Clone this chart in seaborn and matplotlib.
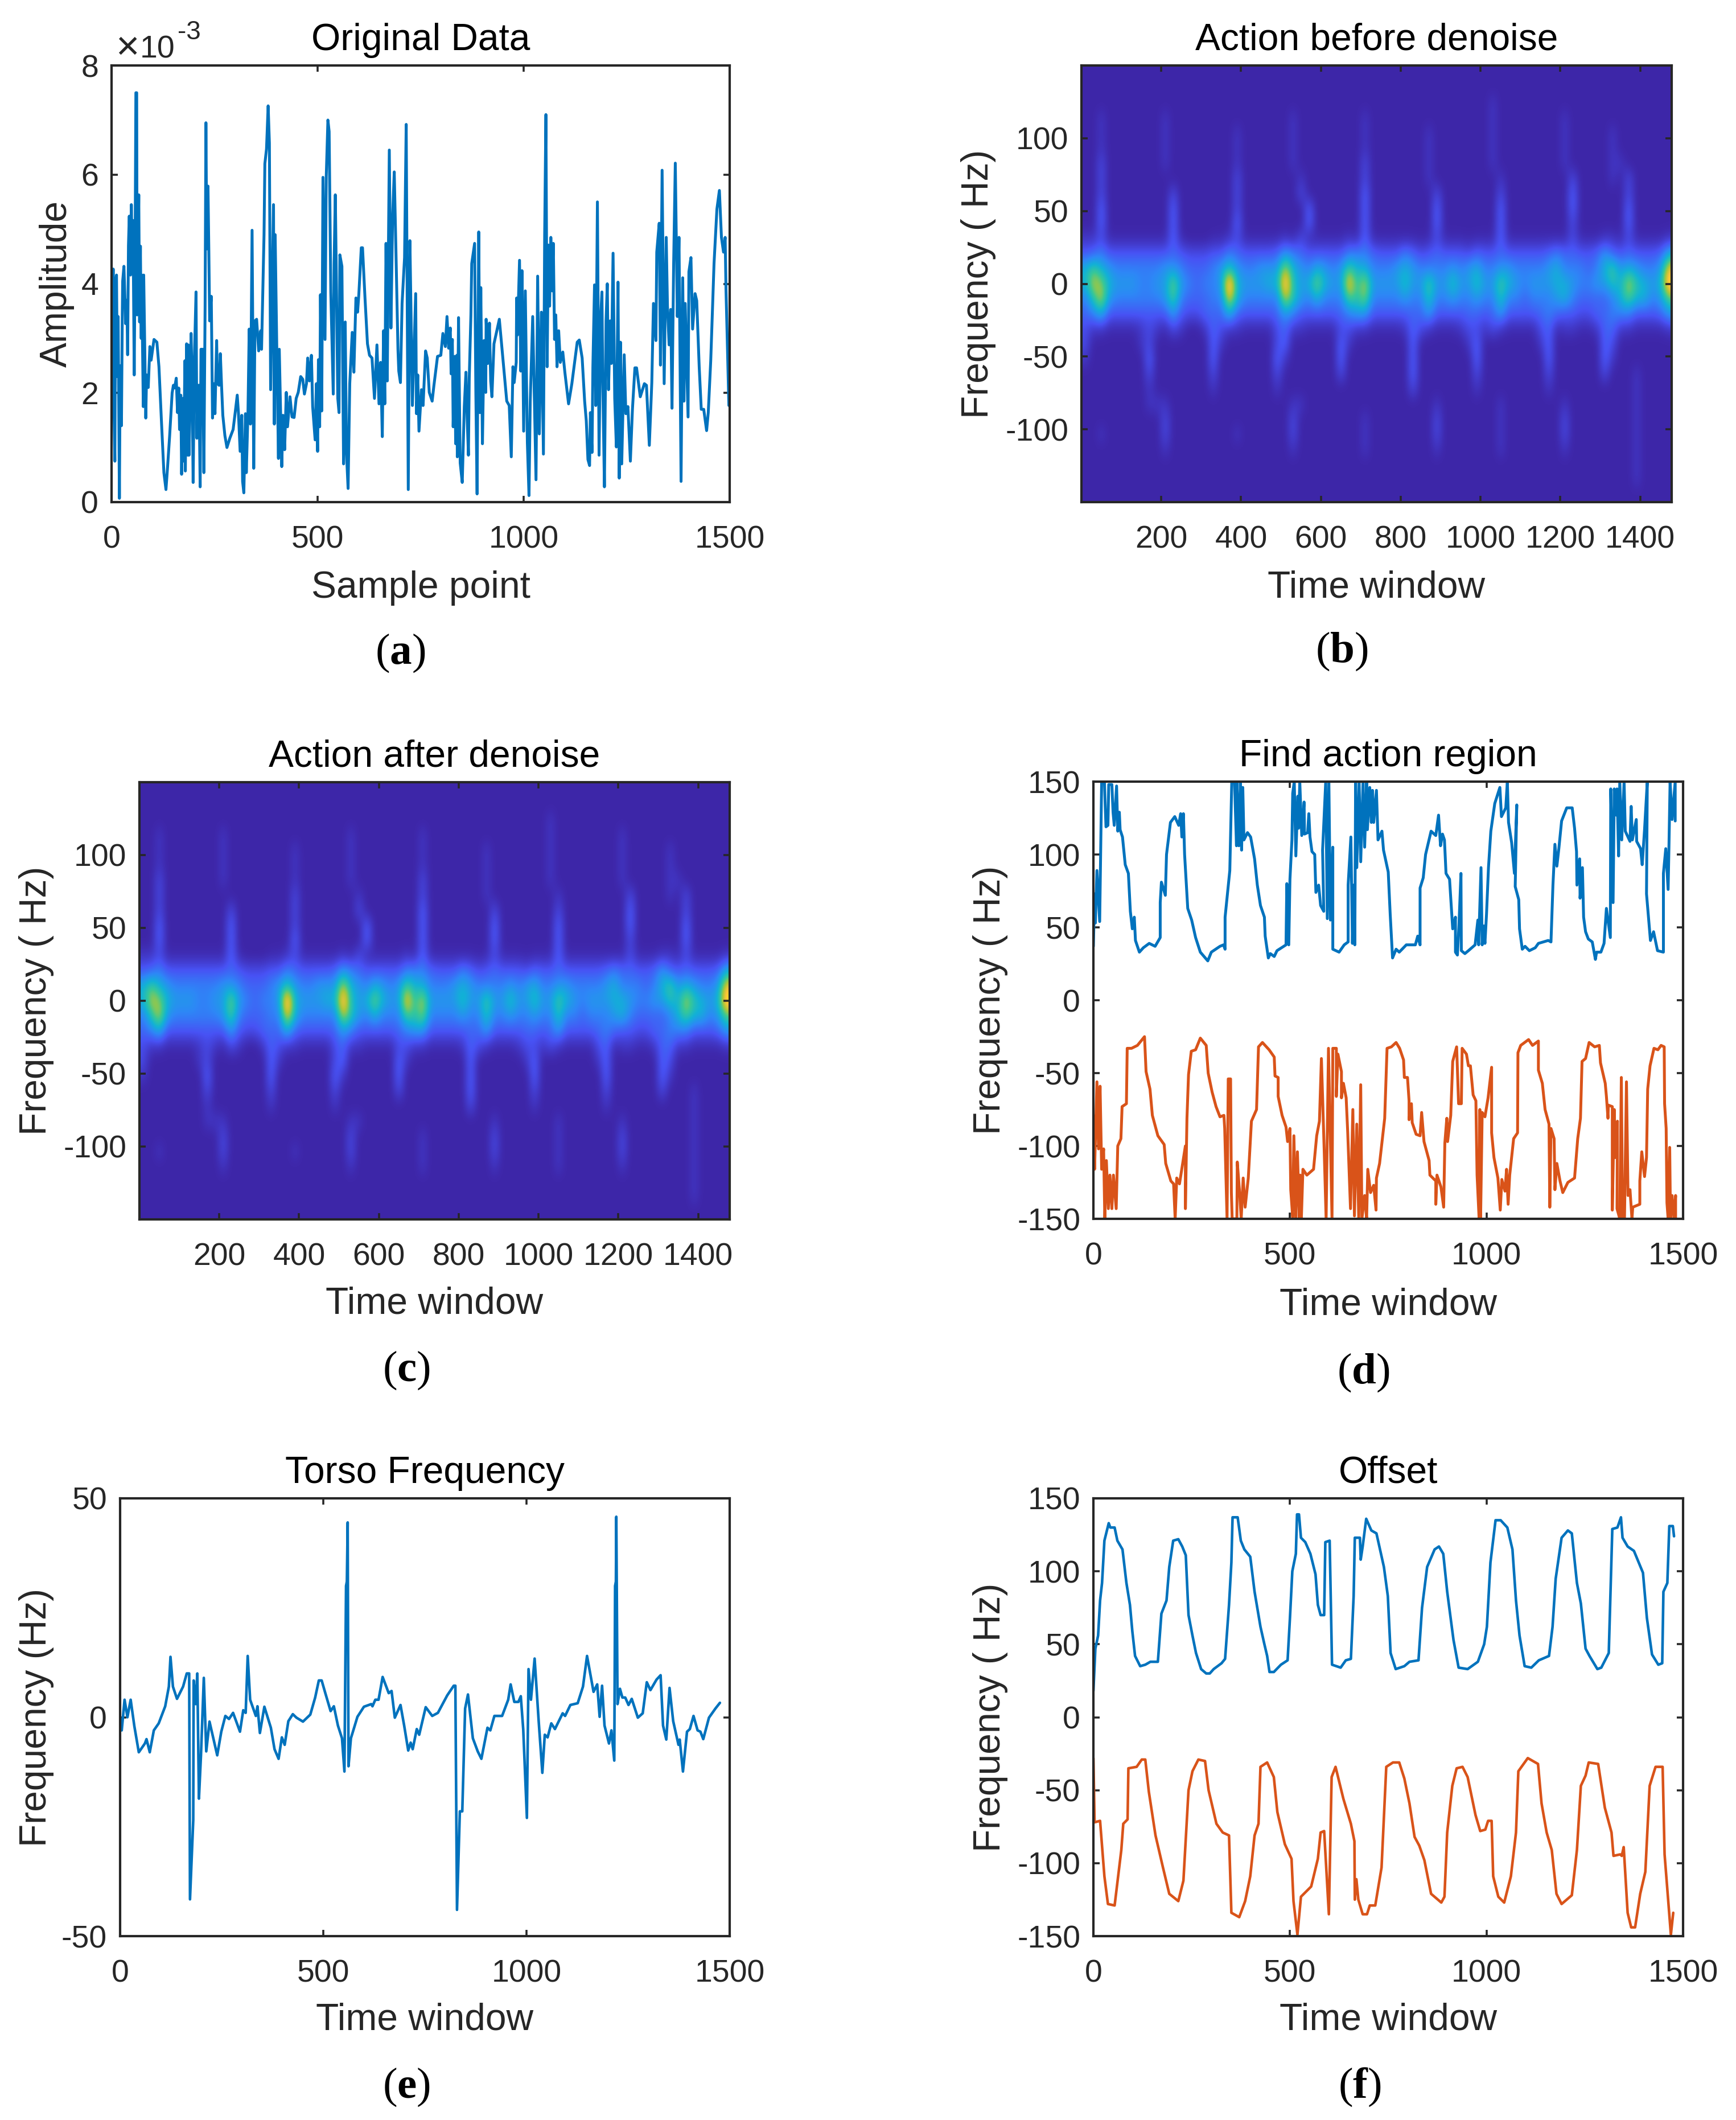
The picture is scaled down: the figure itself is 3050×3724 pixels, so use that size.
import numpy as np
import matplotlib
matplotlib.use("Agg")
import matplotlib.pyplot as plt
from matplotlib.colors import LinearSegmentedColormap, PowerNorm
import seaborn as sns

sns.set_theme(style="white")
plt.rcParams['font.family'] = ['Liberation Sans', 'DejaVu Sans']
plt.rcParams['mathtext.fontset'] = 'custom'
plt.rcParams['mathtext.bf'] = 'Liberation Serif:bold'
plt.rcParams['mathtext.rm'] = 'Liberation Serif'
plt.rcParams['mathtext.default'] = 'regular'

W, H = 3050, 3724
DPI = 300
BLUE = '#0072BD'
ORANGE = '#D95319'
INK = '#262626'
PARULA = [(0.2422, 0.1504, 0.6603), (0.2810, 0.3228, 0.9579), (0.1786, 0.5289, 0.9682),
          (0.0689, 0.6948, 0.8394), (0.2161, 0.7843, 0.5923), (0.6720, 0.7793, 0.2227),
          (0.9970, 0.7659, 0.2199), (0.9769, 0.9839, 0.0805)]

# ---- panel (a): sample point / amplitude (x 1e-3)
a_x = [0,4,5,8,10,12,14,16,19,21,24,26,27,30,33,34,37,39,41,43,46,48,51,52,55,57,59,61,62,66,68,70,72,73,77,78,
       83,85,89,93,96,103,110,115,121,127,132,136,141,147,150,153,157,160,163,165,168,170,173,175,178,179,182,185,186,188,193,195,198,201,205,207,209,212,215,217,221,224,227,229,231,234,236,238,242,245,248,251,255,257,261,264,267,270,275,280,287,295,300,305,308,312,316,318,321,325,327,331,334,337,341,345,348,352,357,362,364,367,370,372,376,380,383,386,393,395,397,401,405,407,413,416,420,424,427,433,438,443,448,453,459,464,468,473,476,480,485,488,494,497,500,502,505,507,510,513,518,521,525,528,532,538,540,543,549,552,554,559,563,567,570,574,578,584,588,593,597,600,606,609,615,621,626,632,638,644,649,653,657,660,663,666,669,674,678,682,686,690,695,697,701,705,711,715,720,724,727,730,738,740,743,746,752,756,762,766,771,778,782,791,799,804,810,814,818,822,824,827,829,833,835,838,839,842,846,851,856,860,863,866,868,872,874,878,881,884,887,891,894,896,900,904,908,909,913,917,920,923,928,935,941,947,954,959,965,970,974,977,982,983,985,990,993,996,1000,1004,1009,1013,1016,1022,1030,1034,1038,1043,1048,1051,1054,1057,1060,1063,1066,1069,1072,1075,1078,1081,1085,1089,1095,1100,1109,1117,1130,1135,1142,1148,1152,1156,1160,1162,1166,1168,1172,1175,1179,1183,1187,1190,1192,1196,1200,1203,1206,1210,1213,1217,1221,1225,1229,1232,1235,1238,1244,1248,1253,1259,1264,1270,1274,1283,1293,1298,1305,1311,1315,1321,1323,1329,1332,1336,1341,1346,1349,1353,1357,1360,1364,1368,1373,1377,1382,1386,1389,1392,1399,1401,1406,1410,1416,1420,1426,1431,1437,1444,1448,1454,1462,1469,1475,1480,1485,1489,1491,1494,1498]
a_y = [1.75,4.27,2.1,0.75,4.05,4.16,2.3,3.4,0.07,2.5,1.4,3.4,4.05,4.32,3.6,3.27,3.7,2.7,4.7,5.24,4.16,5.45,4.2,5.16,2.33,4.37,7.5,7.5,3.43,5.63,3.3,4.69,3.0,4.16,1.75,4.16,
       1.54,2.33,2.1,2.85,2.6,2.98,2.93,2.48,1.49,0.54,0.23,0.65,1.22,2.0,2.14,2.09,2.27,1.64,2.09,1.33,1.96,0.51,1.9,0.75,2.59,0.57,2.9,0.86,2.88,0.86,3.09,2.38,0.36,2.64,3.85,1.17,2.14,2.14,0.28,2.8,2.8,0.54,3.59,6.95,4.64,5.79,4.64,3.32,3.77,1.54,2.17,1.62,2.96,2.17,2.14,2.72,2.12,1.59,1.22,1.0,1.17,1.33,1.64,1.96,1.62,0.93,1.59,0.38,0.17,1.62,0.54,1.64,3.17,1.43,4.98,0.62,3.32,3.35,2.77,3.14,2.8,3.85,4.9,6.2,6.47,7.26,6.58,2.06,5.45,1.43,4.9,2.8,0.8,2.8,0.65,1.59,0.96,2.01,1.38,1.93,1.56,1.55,1.9,2.01,2.3,2.25,1.98,2.17,2.64,2.22,2.69,1.75,1.14,2.17,0.93,2.61,1.38,3.8,1.67,5.95,2.98,5.97,7.0,6.79,3.85,1.98,4.37,5.63,1.9,1.64,4.53,4.32,0.7,3.3,0.91,0.25,2.17,3.11,2.38,3.74,3.48,3.8,4.66,4.66,3.74,2.9,2.69,2.64,1.9,2.88,1.8,2.56,1.2,3.14,1.8,4.74,2.22,6.45,3.19,5.21,6.05,4.64,2.8,2.4,2.19,3.64,4.48,6.92,0.23,4.79,3.32,1.77,3.82,1.62,2.33,1.3,2.06,1.77,2.77,2.64,2.01,1.85,2.12,2.67,2.69,3.09,2.85,3.4,2.82,3.19,2.35,2.98,1.38,2.67,1.07,2.69,0.83,3.38,0.72,0.36,1.75,2.38,1.54,0.86,2.27,3.43,4.37,4.58,4.74,2.01,0.15,4.95,1.64,3.93,1.07,2.96,2.01,3.35,2.54,3.28,2.22,1.93,2.9,3.14,3.35,2.85,2.27,1.85,1.77,0.83,2.48,2.19,2.56,3.74,3.06,4.43,2.4,4.24,1.3,3.87,1.09,0.12,1.85,3.4,0.41,4.14,1.25,3.48,0.88,4.9,7.1,2.48,4.71,3.59,4.85,3.87,4.74,2.98,3.43,2.48,3.14,2.56,2.75,2.38,1.8,2.17,2.93,2.97,2.64,1.85,1.49,0.78,0.67,1.64,0.91,2.48,3.98,1.77,5.5,0.86,3.4,3.85,2.22,0.28,3.32,4.0,2.06,3.32,2.54,4.56,1.9,1.01,4.03,0.44,2.93,0.7,2.7,1.62,1.75,0.75,1.7,2.46,2.46,1.93,2.17,2.14,1.04,2.19,3.64,2.96,4.58,5.11,2.51,6.08,2.17,4.85,3.59,2.88,3.53,1.72,4.37,6.21,3.4,4.85,0.38,4.11,1.85,3.64,1.56,4.22,4.48,3.17,3.82,3.69,2.48,1.7,1.7,1.31,1.64,2.59,4.37,5.37,5.71,4.85,4.58,4.85,3.9,3.01,1.77]

# ---- panel (d): upper and lower frequency bounds
d_up_x = [0,3,5,9,16,21,28,32,37,39,47,50,53,59,62,66,68,74,81,89,94,99,104,107,117,127,142,157,170,170,173,183,186,196,207,217,222,225,229,232,240,250,260,272,291,300,322,331,335,335,341,347,352,359,364,365,370,374,377,380,383,392,400,410,417,425,435,437,445,450,460,467,490,492,497,500,505,507,511,515,520,522,525,530,536,537,545,548,551,556,563,566,573,578,586,583,591,595,599,603,609,609,625,638,648,648,655,659,662,665,667,670,676,680,686,690,695,697,703,707,710,713,720,724,734,738,750,755,761,770,778,796,819,825,831,831,839,845,859,871,878,883,888,893,897,906,914,921,921,926,930,935,936,945,954,971,978,980,986,989,993,996,1000,1005,1011,1021,1034,1038,1049,1053,1056,1064,1071,1077,1073,1082,1084,1091,1098,1109,1124,1132,1157,1164,1169,1174,1179,1184,1191,1204,1218,1224,1229,1230,1237,1238,1244,1247,1252,1259,1269,1277,1280,1291,1299,1305,1315,1316,1322,1325,1330,1332,1336,1339,1344,1350,1353,1365,1368,1371,1381,1382,1392,1396,1402,1409,1407,1417,1425,1435,1450,1450,1456,1462,1464,1467,1472,1480,1480]
d_up_y = [37,73,53,89,54,150,150,119,120,148,148,129,120,147,116,129,117,112,93,87,61,49,57,41,33,36,39,37,43,67,81,72,100,122,126,120,128,112,128,100,63,55,43,33,27,33,37,38,35,57,73,89,150,150,106,150,106,150,103,146,110,115,112,97,79,65,57,44,29,32,30,34,38,80,38,83,110,142,150,99,140,118,150,113,136,114,115,128,112,102,100,74,79,65,61,103,150,56,150,55,105,35,33,38,40,79,112,39,79,38,150,91,150,95,150,105,150,117,146,122,144,122,144,110,116,103,88,59,29,35,33,38,38,44,38,77,84,100,116,113,127,106,114,110,87,83,49,57,33,31,52,87,34,32,34,38,55,38,91,38,51,39,59,91,116,135,146,126,132,150,122,108,87,134,78,69,49,35,37,34,36,39,41,40,79,107,92,104,123,132,132,118,102,79,97,70,91,57,47,42,40,28,33,33,39,63,43,145,67,145,127,145,99,150,110,150,116,109,133,110,124,109,104,93,117,150,73,41,47,34,33,87,104,76,104,150,124,150,123]
d_lo_x = [0,3,9,13,17,21,26,29,33,38,42,47,51,58,62,70,73,84,86,97,112,130,134,144,150,164,180,184,197,204,208,212,219,227,234,234,238,242,249,260,272,287,292,302,312,322,332,334,340,343,349,351,353,365,366,372,376,381,386,394,402,415,420,430,447,460,462,470,470,480,490,494,500,502,507,510,515,519,524,526,529,533,543,560,568,575,580,587,592,598,607,609,618,618,622,631,631,636,643,647,654,660,664,670,675,680,683,690,695,698,705,713,719,720,728,741,747,758,770,779,789,791,799,803,803,809,811,821,831,835,841,854,856,871,871,874,884,891,894,899,901,909,914,924,929,936,938,949,954,959,966,973,976,981,983,985,989,996,1004,1013,1013,1019,1029,1035,1039,1047,1051,1055,1059,1069,1079,1080,1087,1107,1117,1132,1132,1142,1149,1159,1161,1164,1172,1174,1179,1187,1194,1207,1224,1232,1239,1243,1252,1261,1275,1287,1290,1302,1305,1309,1310,1320,1320,1325,1327,1333,1332,1339,1343,1346,1351,1356,1360,1365,1370,1372,1390,1390,1395,1402,1407,1410,1416,1426,1436,1444,1452,1453,1457,1459,1462,1466,1468,1472,1477,1481,1481]
d_lo_y = [-79,-116,-56,-102,-59,-116,-102,-150,-110,-143,-120,-143,-120,-143,-100,-95,-73,-71,-33,-33,-31,-25,-49,-61,-79,-93,-99,-112,-124,-126,-150,-122,-126,-112,-100,-143,-81,-51,-35,-34,-26,-31,-50,-63,-73,-80,-79,-88,-150,-54,-54,-132,-150,-150,-111,-132,-150,-122,-142,-122,-83,-75,-32,-29,-34,-39,-52,-53,-66,-79,-87,-97,-88,-130,-149,-93,-150,-104,-150,-120,-150,-116,-120,-116,-93,-83,-40,-102,-150,-33,-150,-33,-33,-66,-37,-49,-67,-57,-67,-91,-143,-75,-148,-85,-150,-58,-150,-134,-150,-116,-132,-127,-144,-122,-112,-81,-33,-32,-29,-33,-41,-53,-53,-69,-82,-71,-84,-92,-93,-77,-97,-110,-120,-124,-140,-120,-128,-142,-98,-81,-97,-79,-42,-32,-71,-71,-33,-37,-45,-45,-65,-69,-120,-149,-75,-149,-77,-80,-67,-46,-91,-108,-122,-144,-123,-131,-116,-140,-120,-95,-91,-36,-31,-27,-31,-28,-48,-57,-75,-85,-142,-88,-95,-130,-112,-124,-132,-125,-122,-95,-81,-42,-40,-29,-32,-31,-43,-57,-66,-81,-72,-73,-144,-75,-108,-83,-143,-150,-53,-150,-150,-56,-134,-130,-150,-142,-140,-124,-104,-121,-108,-61,-45,-33,-34,-31,-32,-71,-88,-139,-150,-101,-150,-134,-150,-134,-150]

# ---- panel (e): torso frequency
e_x = [0,4,11,18,26,35,46,61,65,73,83,95,111,120,124,130,140,155,164,170,172,180,181,186,190,194,199,206,212,220,239,249,259,268,278,295,303,309,314,320,334,338,344,355,371,380,390,398,405,414,425,434,450,468,480,489,496,505,518,526,536,546,552,556,558,560,562,568,584,600,618,621,628,636,646,661,668,676,690,699,709,715,720,730,736,752,768,782,805,821,825,829,836,842,849,856,868,880,889,904,911,921,940,955,961,970,980,986,992,1001,1005,1011,1020,1030,1039,1045,1052,1061,1070,1089,1095,1108,1126,1139,1149,1155,1165,1174,1180,1186,1192,1203,1209,1216,1218,1220,1221,1224,1230,1236,1243,1251,1259,1274,1286,1296,1305,1320,1330,1336,1344,1352,1361,1374,1377,1385,1395,1402,1411,1421,1428,1435,1449,1465,1476]
e_y = [0,-3,4,0,4,-2,-8,-6,-5,-8,-3,-1.4,2.5,7,13.8,7,4.2,7,10,10,-41.6,-23.5,8.4,3,10,-18.6,-8.7,9,-7.8,-1,-8.7,-3.3,0.3,-0.4,1,-3.3,1.6,1,14,4,0.3,2.5,-3.6,2.4,-2.4,-7.3,-9.5,-4.6,-6.3,-0.9,0.7,-0.1,-1,0.6,4.5,8.4,8.4,5.5,1.4,2.5,-1.9,-4.8,-12.4,30,31,44.5,-11.2,-4.8,0.1,2.4,3,2.5,4,4,9.2,5.5,6,-0.1,2.8,-1.9,-7.6,-5.8,-7.3,-2.7,-4,2.3,0.3,1,5,7.2,7.2,-44,-21.5,-21.5,2,5.2,-4.8,-7.8,-9.5,-2.4,-3,0.3,0.3,4,7.5,3.5,3.5,4.8,-2.8,-23,11,4,13.4,-0.9,-12.7,-4,-4.6,-1.4,-2.7,0.9,0.3,2.8,3.2,7,14,10.9,5.8,7.5,0.1,7.2,-1.9,-6,-3,-9.9,30,31,45.8,3,6.5,4.5,4.5,2.8,4.2,-0.1,0.9,8,6.2,8.6,9.6,-1.9,-5.1,6.7,-0.9,-6.3,-5.1,-12.4,-3.3,-2.7,0.3,-3,-3.3,-5,-0.1,2,3.3]

# ---- panel (f): offset bounds
f_up_x = [0,5,12,17,22,28,39,43,54,61,74,84,93,99,106,119,132,145,164,173,186,193,203,216,226,235,242,252,261,274,287,296,306,326,335,345,351,354,367,375,384,399,410,425,435,442,448,459,477,494,500,506,515,518,523,528,539,552,565,571,578,587,590,601,607,629,642,655,662,665,678,680,685,694,707,720,739,749,756,769,791,804,827,836,849,868,879,890,900,916,929,952,978,994,1001,1010,1023,1036,1053,1066,1075,1084,1097,1114,1133,1159,1168,1176,1191,1207,1217,1230,1240,1252,1262,1282,1292,1311,1320,1333,1342,1346,1359,1375,1398,1408,1421,1437,1447,1450,1460,1465,1474,1477]
f_up_y = [18,47,56,80,92,121,133,130,130,121,115,92,77,59,42,35,36,38,38,71,80,103,121,122,117,111,70,56,44,33,30,30,33,37,40,77,106,137,137,121,115,110,86,62,50,42,31,31,36,39,68,100,112,139,139,123,120,112,98,77,70,70,120,121,36,34,39,40,83,123,123,108,117,136,128,126,103,83,44,33,35,38,39,75,103,115,117,112,86,53,34,33,38,50,62,106,135,135,130,115,80,56,35,34,39,42,62,95,123,128,126,92,78,47,42,33,34,44,129,130,137,123,117,114,99,68,43,36,37,86,92,131,131,124]
f_lo_x = [0,3,17,28,37,54,71,76,87,89,110,123,132,141,158,177,193,216,229,242,252,267,284,293,313,329,345,351,371,386,399,410,420,425,442,459,468,487,504,509,519,528,554,571,578,587,599,606,616,636,655,664,665,669,674,685,696,703,717,733,745,762,778,791,804,817,829,842,859,885,893,900,913,924,939,952,972,984,997,1004,1013,1017,1030,1045,1062,1075,1081,1105,1131,1140,1153,1166,1178,1191,1217,1230,1240,1252,1260,1284,1301,1318,1323,1340,1344,1349,1359,1368,1378,1391,1404,1415,1430,1448,1453,1469,1475]
f_lo_y = [-28,-72,-71,-109,-128,-129,-91,-73,-70,-35,-34,-29,-29,-51,-81,-103,-121,-126,-112,-50,-37,-29,-30,-50,-73,-79,-81,-134,-137,-126,-109,-81,-73,-34,-31,-41,-65,-87,-97,-126,-149,-123,-116,-97,-79,-78,-135,-41,-34,-56,-73,-85,-125,-111,-125,-135,-135,-129,-129,-103,-34,-31,-31,-42,-59,-82,-88,-98,-121,-127,-123,-79,-47,-35,-34,-41,-67,-78,-77,-71,-71,-109,-123,-127,-109,-79,-37,-28,-32,-59,-79,-91,-121,-128,-122,-91,-47,-40,-31,-32,-62,-79,-95,-94,-95,-89,-134,-144,-144,-121,-106,-47,-34,-34,-94,-149,-134]

# ---- panels (b), (c): time-frequency magnitude, read on a 20-window / 10-Hz grid
# rows run from +140 Hz down to -140 Hz
heat_rows = [
 [0,0,0,0,0,0,0,0,0,0, 0,0,0,0,0,0,0,0,0,0, 0,0,0,0,0,0,0,0,0,0, 0,0,0,0,0,0,0,0,0,0, 0,0,0,0,0,0,0,0,0,0, 0,0,0,0,0,0,0,0,0,0, 0,0,0,0,0,0,0,0,0,0, 0,0,0,0],
 [0,0,0,0,0,0,0,0,0,0, 0,0,0,0,0,0,0,0,0,0, 0,0,0,0,0,0,0,0,0,0, 0,0,0,0,0,0,0,0,0,0, 0,0,0,0,0,0,0,0,0,0, 0,0,0,0,0,0,0,0,0,0, 0,0,0,0,0,0,0,0,0,0, 0,0,0,0],
 [0,0,0,0,0,0,0,0,0,0, 0,0,0,0,0,0,0,0,0,0, 0,0,0,0,0,0,0,0,0,0, 0,0,0,0,0,0,0,0,0,0, 0,0,0,0,0,0,0,0,0,0, 0,1,0,0,0,0,0,0,0,0, 0,0,0,0,0,0,0,0,0,0, 0,0,0,0],
 [0,0,1,0,0,0,0,0,0,0, 1,0,0,0,0,0,0,0,0,0, 0,0,0,0,0,0,1,0,0,0, 0,0,0,0,0,1,0,0,0,0, 0,0,0,0,0,0,0,0,0,0, 0,1,0,0,0,0,0,0,0,0, 1,0,0,0,0,0,0,0,0,0, 0,0,0,0],
 [0,0,1,0,0,0,0,0,0,0, 1,0,0,0,0,0,0,0,0,1, 0,0,0,0,0,0,1,0,0,0, 0,0,0,0,0,1,0,0,0,0, 0,0,0,1,0,0,0,0,0,0, 0,1,0,0,0,0,0,0,0,0, 1,0,0,0,0,0,1,0,0,0, 0,0,0,0],
 [0,0,1,0,0,0,0,0,0,0, 1,0,0,0,0,0,0,0,0,1, 0,0,0,0,0,0,1,0,0,0, 0,0,0,0,0,1,0,0,0,0, 0,0,0,1,0,0,0,0,0,0, 0,1,0,0,0,0,0,0,0,0, 1,0,0,0,0,0,1,0,0,0, 0,0,0,0],
 [0,0,2,0,0,0,0,0,0,0, 1,0,0,0,0,0,0,0,0,1, 0,0,0,0,0,0,1,0,0,0, 0,0,0,0,0,2,0,0,0,0, 0,0,0,1,0,0,0,0,0,0, 0,1,0,0,0,0,0,0,0,0, 1,0,0,0,0,0,1,1,0,0, 0,0,0,0],
 [0,0,2,0,0,0,0,0,0,0, 0,0,0,0,0,0,0,0,0,2, 0,0,0,0,0,0,0,1,0,0, 0,0,0,0,0,2,0,0,0,0, 0,0,0,1,0,0,0,0,0,0, 0,0,1,0,0,0,0,0,0,0, 0,2,0,0,0,0,1,0,2,0, 0,0,0,0],
 [0,0,2,0,0,0,0,0,0,0, 0,2,0,0,0,0,0,0,0,2, 0,0,0,0,0,0,0,2,0,0, 0,0,0,0,0,3,0,0,0,0, 0,0,0,0,2,0,0,0,0,0, 0,0,2,0,0,0,0,0,0,0, 0,3,0,0,0,0,0,0,2,0, 0,0,0,0],
 [0,0,3,0,0,0,0,0,0,0, 0,3,0,0,0,0,0,0,0,2, 0,0,0,0,0,0,0,0,3,0, 0,0,0,0,0,3,0,0,0,0, 0,0,0,0,3,0,0,0,0,0, 0,0,3,0,0,0,0,0,0,0, 0,3,0,0,0,0,0,0,3,0, 0,0,0,0],
 [0,0,3,0,0,0,0,0,0,0, 0,3,0,0,0,0,0,0,0,3, 0,0,0,0,0,0,0,0,3,0, 0,0,0,0,0,3,0,0,0,0, 0,0,0,0,3,0,0,0,0,0, 0,0,3,0,0,0,0,0,0,0, 0,2,0,0,0,0,0,0,3,0, 0,0,0,0],
 [1,1,2,.4,.4,.4,.4,.4,.4,.4, .4,3,.4,0,0,0,.4,.4,1,2, .4,.4,.4,.4,.4,1,.4,2,.4,.4, .4,.4,.4,1,.4,3,.4,.4,.4,.4, .4,.4,.2,.4,2,.4,.4,.4,.2,.4, .4,.4,3,.4,.4,.4,.4,.4,.4,.4, .4,2,.4,.4,.4,1,1,.4,2,.4, .4,.4,.4,1],
 [2.5,3,4,2.5,2.5,2.5,2.5,2.5,2.5,2.5, 2.5,3,2.5,2,2,2,2.5,2.5,4,3, 2.5,2.5,2.5,2.5,3,5,4,3,2.5,2.5, 2.5,2.5,2.5,4,4,4,3,2.5,2.5,2.5, 4,3,2,2.5,3,2.5,2.5,2.5,2,3, 2.5,2.5,3,2.5,2.5,2.5,2.5,2.5,3,4, 3,3,2.5,2.5,3,5,3,2.5,3,2.5, 2.5,2.5,3,6],
 [6,8,6,5,4,4,4,4,4,4, 5,5,4,3,3,3,4,5,7,5, 4,4,5,5,5,10,6,5,4,6, 5,4,5,8,6,6,4,4,4,5, 6,5,4,4,4,4,5,4,5,6, 4,4,5,5,4,4,4,4,5,6, 4,4,4,3,4,6,8,5,6,5, 4,4,5,11],
 [6,10,9,6,5,5,5,4,4,5, 5,9,5,4,3,4,4,5,14,6, 5,5,5,6,6,13,7,5,6,9, 6,5,5,12,7,10,5,5,5,5, 7,5,5,8,5,5,7,5,5,7, 5,5,8,6,5,4,5,5,5,6, 6,5,4,4,5,5,7,6,10,7, 6,5,6,13],
 [4,7,10,5,4,4,4,4,4,4, 5,8,4,3,3,3,4,4,11,6, 4,4,4,4,4,10,7,5,4,6, 4,4,4,8,7,9,4,4,4,4, 5,4,4,7,4,4,5,4,4,5, 4,4,7,4,4,3,4,4,4,5, 6,4,3,3,3,3,4,6,8,6, 6,4,5,8],
 [3,4,6,2.5,2.5,2.5,2.5,2.5,2.5,2.5, 2.5,5,2.5,2,2,3,3,3,6,3, 2.5,2.5,2.5,2.5,3,5,4,2.5,2.5,2.5, 2.5,2.5,3,4,5,5,2.5,2.5,2.5,2.5, 2.5,3,3,5,2.5,2.5,2.5,2.5,3,3, 2.5,3,5,2.5,2.5,2.5,2.5,3,4,3, 2.5,2.5,2,2,3,3,4,4,4,2.5, 2.5,2.5,3,5],
 [2,1,1,.4,.4,.4,.4,1,2,1, .4,2,1,0,0,1,3,2,1,1, .4,.4,.4,.4,2,3,1,1,.4,.4, .4,.4,2,2,1,1,.4,.4,.4,.4, 1,3,2,1,.4,.4,.4,1,2,2, 1,2,1,.4,.4,.4,.4,2,3,.4, 1,1,.4,.4,1,3,3,1,1,.4, .4,.4,.4,1],
 [2,0,0,0,0,0,0,1,2,0, 0,0,0,0,0,0,3,1,0,0, 0,0,0,0,2,3,0,0,0,0, 0,0,3,1,0,0,0,0,0,0, 0,3,0,0,0,0,0,0,1,3, 0,0,0,0,0,0,0,1,3,0, 0,0,0,0,0,3,2,0,0,0, 0,0,0,0],
 [1,0,0,0,0,0,0,0,3,0, 0,0,0,0,0,0,3,0,0,0, 0,0,0,0,3,1,0,0,0,0, 0,0,3,0,0,0,0,0,0,0, 0,3,0,0,0,0,0,0,0,3, 0,0,0,0,0,0,0,0,3,0, 0,0,0,0,0,3,1,0,0,0, 0,0,0,0],
 [0,0,0,0,0,0,0,0,2,0, 0,0,0,0,0,0,2,0,0,0, 0,0,0,0,2,0,0,0,0,0, 0,0,2,0,0,0,0,0,0,0, 0,3,0,0,0,0,0,0,0,2, 0,0,0,0,0,0,0,0,2,0, 0,0,0,0,0,2,0,0,0,1, 0,0,0,0],
 [0,0,0,0,0,0,0,0,1,0, 0,0,0,0,0,0,1,0,0,0, 0,0,0,0,1,0,0,0,0,0, 0,0,0,0,0,0,0,0,0,0, 0,2,0,0,0,0,0,0,0,1, 0,0,0,0,0,0,0,0,1,0, 0,0,0,0,0,0,0,0,0,1, 0,0,0,0],
 [0,0,0,0,0,0,0,0,1,1, 1,0,0,0,0,0,0,0,0,0, 0,0,0,0,0,0,1,1,0,0, 0,0,0,0,0,0,0,0,0,0, 0,0,0,0,1,0,0,0,0,0, 0,0,1,0,0,0,0,0,0,0, 1,0,0,0,0,0,0,0,0,1, 0,0,0,0],
 [0,0,0,0,0,0,0,0,0,0, 2,0,0,0,0,0,0,0,0,0, 0,0,0,0,0,0,2,0,0,0, 0,0,0,0,0,1,0,0,0,0, 0,0,0,0,2,0,0,0,0,0, 0,0,1,0,0,0,0,0,0,0, 2,0,0,0,0,0,0,0,0,1, 0,0,0,0],
 [0,0,1,0,0,0,0,0,0,0, 2,0,0,0,0,0,0,0,0,1, 0,0,0,0,0,0,2,0,0,0, 0,0,0,0,0,1,0,0,0,0, 0,0,0,0,2,0,0,0,0,0, 0,0,1,0,0,0,0,0,0,0, 2,0,0,0,0,0,0,0,0,1, 0,0,0,0],
 [0,0,0,0,0,0,0,0,0,0, 1,0,0,0,0,0,0,0,0,0, 0,0,0,0,0,0,1,0,0,0, 0,0,0,0,0,1,0,0,0,0, 0,0,0,0,1,0,0,0,0,0, 0,0,1,0,0,0,0,0,0,0, 1,0,0,0,0,0,0,0,0,1, 0,0,0,0],
 [0,0,0,0,0,0,0,0,0,0, 0,0,0,0,0,0,0,0,0,0, 0,0,0,0,0,0,0,0,0,0, 0,0,0,0,0,0,0,0,0,0, 0,0,0,0,0,0,0,0,0,0, 0,0,0,0,0,0,0,0,0,0, 0,0,0,0,0,0,0,0,0,1, 0,0,0,0],
 [0,0,0,0,0,0,0,0,0,0, 0,0,0,0,0,0,0,0,0,0, 0,0,0,0,0,0,0,0,0,0, 0,0,0,0,0,0,0,0,0,0, 0,0,0,0,0,0,0,0,0,0, 0,0,0,0,0,0,0,0,0,0, 0,0,0,0,0,0,0,0,0,1, 0,0,0,0],
 [0,0,0,0,0,0,0,0,0,0, 0,0,0,0,0,0,0,0,0,0, 0,0,0,0,0,0,0,0,0,0, 0,0,0,0,0,0,0,0,0,0, 0,0,0,0,0,0,0,0,0,0, 0,0,0,0,0,0,0,0,0,0, 0,0,0,0,0,0,0,0,0,0, 0,0,0,0],
]

titles = ['Original Data', 'Action before denoise', 'Action after denoise',
          'Find action region', 'Torso Frequency', 'Offset']
xlabels = ['Sample point', 'Time window', 'Time window', 'Time window', 'Time window', 'Time window']
ylabels = ['Amplitude', 'Frequency ( Hz)', 'Frequency ( Hz)', 'Frequency ( Hz)', 'Frequency (Hz)', 'Frequency ( Hz)']
letters = ['a', 'b', 'c', 'd', 'e', 'f']
tick_500 = [0, 500, 1000, 1500]
tick_200 = [200, 400, 600, 800, 1000, 1200, 1400]
tick_freq = [-100, -50, 0, 50, 100]
tick_band = [-150, -100, -50, 0, 50, 100, 150]

fig = plt.figure(figsize=(W / DPI, H / DPI), dpi=DPI, facecolor='white')

# layout in pixels: left, right, top, bottom, ylabel x, xlabel y, caption x, caption y
boxes = [(196, 1282, 115, 882, 100, 1033, 703, 1147),
         (1900, 2937, 115, 882, 1719, 1033, 2357, 1144),
         (245, 1282, 1374, 2142, 64, 2291, 714, 2407),
         (1921, 2957, 1373, 2141, 1740, 2292, 2395, 2411),
         (211, 1282, 2632, 3401, 64, 3549, 714, 3666),
         (1921, 2957, 2632, 3401, 1740, 3549, 2389, 3666)]
axes = []
for i, (l, r, t, b, ylx, xly, cx, cy) in enumerate(boxes):
    ax = fig.add_axes([l / W, 1 - b / H, (r - l) / W, (b - t) / H])
    axes.append(ax)

LW = 1.2
LW2 = 1.1
def trace(ax, x, y, color, lw):
    sns.lineplot(x=x, y=y, ax=ax, color=color, linewidth=lw, sort=False, estimator=None, errorbar=None)

trace(axes[0], a_x, a_y, BLUE, LW)
trace(axes[3], d_up_x, d_up_y, BLUE, LW)
trace(axes[3], d_lo_x, d_lo_y, ORANGE, LW)
trace(axes[4], e_x, e_y, BLUE, LW2)
trace(axes[5], f_up_x, f_up_y, BLUE, LW2)
trace(axes[5], f_lo_x, f_lo_y, ORANGE, LW2)

cmap = LinearSegmentedColormap.from_list('parula_like', PARULA)
heat = np.array(heat_rows, dtype=float)
for ax in (axes[1], axes[2]):
    ax.imshow(heat, cmap=cmap, norm=PowerNorm(gamma=1.15, vmin=0, vmax=12.5), aspect='auto',
              interpolation='bicubic', extent=(0, 1480, -150, 150))

axes[0].set(xlim=(0, 1500), ylim=(0, 8), xticks=tick_500, yticks=[0, 2, 4, 6, 8])
axes[1].set(xlim=(0, 1479), ylim=(-150, 150), xticks=tick_200, yticks=tick_freq)
axes[2].set(xlim=(0, 1479), ylim=(-150, 150), xticks=tick_200, yticks=tick_freq)
axes[3].set(xlim=(0, 1500), ylim=(-150, 150), xticks=tick_500, yticks=tick_band)
axes[4].set(xlim=(0, 1500), ylim=(-50, 50), xticks=tick_500, yticks=[-50, 0, 50])
axes[5].set(xlim=(0, 1500), ylim=(-150, 150), xticks=tick_500, yticks=tick_band)

for i, ax in enumerate(axes):
    l, r, t, b, ylx, xly, cx, cy = boxes[i]
    ax.tick_params(axis='both', which='major', direction='in', top=True, right=True, bottom=True, left=True,
                   length=2.6, width=0.85, color=INK, labelcolor=INK, labelsize=13.3, pad=5.5)
    ax.tick_params(axis='x', pad=9.8)
    ax.set_xticklabels([str(v) for v in ax.get_xticks().astype(int)])
    ax.set_yticklabels([str(v) for v in ax.get_yticks().astype(int)])
    for s in ax.spines.values():
        s.set_visible(True)
        s.set_linewidth(1.0)
        s.set_color(INK)
    ax.set_title(titles[i], fontsize=15.8, color='black', pad=6.5)
    ax.set_xlabel(xlabels[i], fontsize=15.8, color=INK, va='center')
    ax.xaxis.set_label_coords(0.5, 1 - (xly - t) / (b - t))
    ax.set_ylabel(ylabels[i], fontsize=15.8, color=INK, va='center')
    ax.yaxis.set_label_coords((ylx - l) / (r - l), 0.5)
    fig.text(cx / W, 1 - cy / H, '(' + r'$\mathbf{' + letters[i] + '}$' + ')', family='Liberation Serif',
             fontsize=18.5, color='black', ha='center', va='center')

fig.text(203 / W, 1 - 86 / H, '\u00d7', fontsize=17, color=INK, ha='left', va='center')
fig.text(246 / W, 1 - 101 / H, '10', fontsize=13.3, color=INK, ha='left', va='baseline')
fig.text(312 / W, 1 - 57 / H, '-3', fontsize=11, color=INK, ha='left', va='center')

fig.savefig('out.png', dpi=DPI, facecolor='white')
